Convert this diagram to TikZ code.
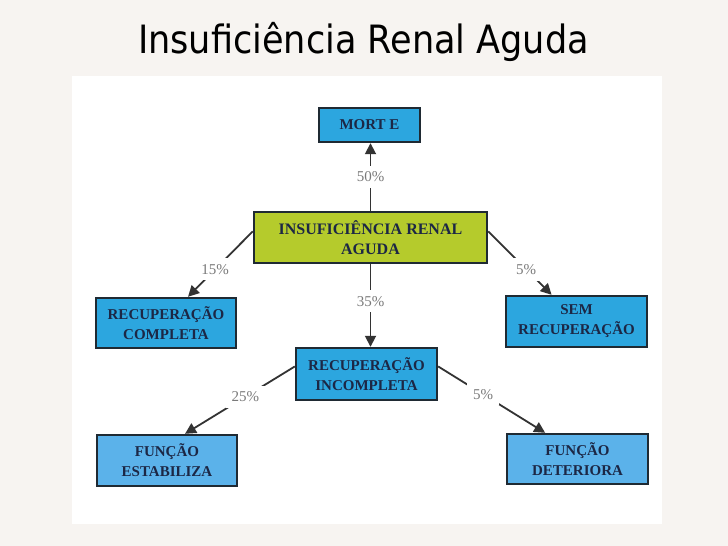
\documentclass[tikz,border=0pt]{standalone}
\usepackage{fontspec}
\setmainfont{Liberation Serif}
\newfontfamily\titlefont{DejaVu Sans Condensed}
\usepackage{xcolor}
\usepackage{tikz}
\usetikzlibrary{arrows.meta}
\definecolor{slidebg}{HTML}{F7F4F1}
\definecolor{azul}{HTML}{2CA6DF}
\definecolor{azulclaro}{HTML}{5BB2EA}
\definecolor{verde}{HTML}{B5CB2C}
\definecolor{borda}{HTML}{1F2A33}
\definecolor{textobox}{HTML}{1C2745}
\definecolor{cinza}{HTML}{7A7A7A}
\definecolor{seta}{HTML}{333333}

\begin{document}
\begin{tikzpicture}[x=1pt,y=-1pt]
      \tikzstyle{every node}=[inner sep=0pt]
      \tikzstyle{caixa}=[rectangle,draw=borda,line width=2.4pt,text=textobox,align=center,
        minimum width=140pt,minimum height=50pt,font=\fontsize{15}{20}\selectfont\bfseries]
      \tikzstyle{pct}=[fill=white,text=cinza,inner sep=6pt,font=\fontsize{15}{15}\selectfont]
      \tikzstyle{seta}=[draw=seta,line width=1.8pt,-{Triangle[length=11pt,width=11pt]}]
      \fill[slidebg] (0,0) rectangle (728,546);
      \useasboundingbox (0,0) rectangle (728,546);
      \fill[white] (72,76) rectangle (662,524);
      \node[anchor=base,font=\titlefont\fontsize{39}{39}\selectfont] (titulo) at (363.5,53)
        {Insuficiência Renal Aguda};
      \node[caixa,fill=azul,minimum width=101pt,minimum height=34pt] (morte) at (369.5,125) {MORT E};
      \node[caixa,fill=verde,minimum width=233pt,minimum height=51pt,
        font=\fontsize{16}{20}\selectfont\bfseries] (insuf) at (370.5,237.5)
        {INSUFICIÊNCIA RENAL\\AGUDA};
      \node[caixa,fill=azul] (rcomp) at (166,323) {RECUPERAÇÃO\\COMPLETA};
      \node[caixa,fill=azul,minimum width=141pt,minimum height=51pt] (sem) at (576.5,321.5) {SEM\\RECUPERAÇÃO};
      \node[caixa,fill=azul,minimum width=141pt,minimum height=52pt] (rinc) at (366.5,374)
        {RECUPERAÇÃO\\INCOMPLETA};
      \node[caixa,fill=azulclaro,minimum height=51pt] (fest) at (167,460.5) {FUNÇÃO\\ESTABILIZA};
      \node[caixa,fill=azulclaro,minimum width=141pt] (fdet) at (577.5,459) {FUNÇÃO\\DETERIORA};
      \draw[seta] (insuf.north) -- node[pct]{50\%} (insuf.north |- morte.south);
      \draw[seta] (insuf.177) -- node[pct,pos=0.58]{15\%} (rcomp.50);
      \draw[seta] (insuf.3) -- node[pct,pos=0.6]{5\%} (sem.133);
      \draw[seta] (insuf.south) -- node[pct,pos=0.45]{35\%} (insuf.south |- rinc.north);
      \draw[seta] (rinc.174) -- node[pct,pos=0.45]{25\%} (fest.56);
      \draw[seta] (rinc.6) -- node[pct,pos=0.42]{5\%} (fdet.141);
      % \noindent
\end{tikzpicture}
\end{document}
